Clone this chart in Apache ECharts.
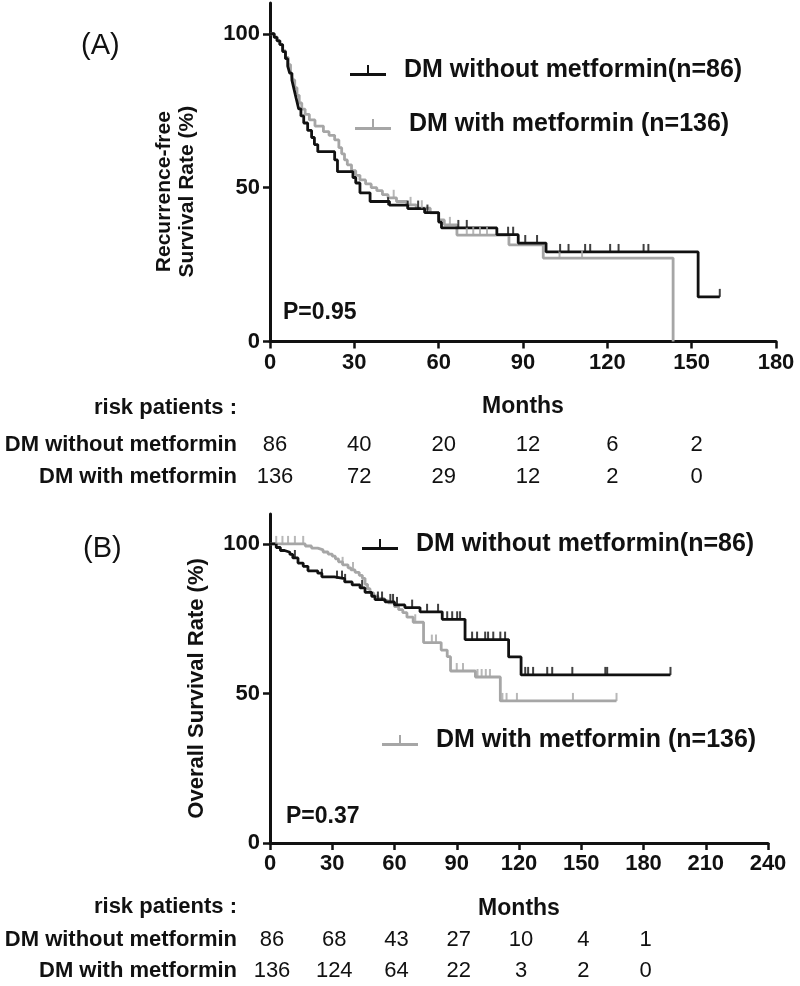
<!DOCTYPE html>
<html><head><meta charset="utf-8">
<script src="https://cdn.jsdelivr.net/npm/echarts@6/dist/echarts.min.js"></script>
<style>html,body{margin:0;padding:0;background:#fff}#c{width:800px;height:986px}</style>
</head><body><div id="c"></div>
<script>
// ---- data ----
const xTicksA = [0, 30, 60, 90, 120, 150, 180];
const xTicksB = [0, 30, 60, 90, 120, 150, 180, 210, 240];
const yTicks = [0, 50, 100];
const groupLabels = ['DM without metformin', 'DM with metformin'];
const legendLabelsA = ['DM without metformin(n=86)', 'DM with metformin (n=136)'];
const legendLabelsB = ['DM without metformin(n=86)', 'DM with metformin (n=136)'];
const riskA_without = [86, 40, 20, 12, 6, 2];
const riskA_with = [136, 72, 29, 12, 2, 0];
const riskB_without = [86, 68, 43, 27, 10, 4, 1];
const riskB_with = [136, 124, 64, 22, 3, 2, 0];
const pValueA = 'P=0.95';
const pValueB = 'P=0.37';

const curveA_without = [[0,100],[1.5,98.8],[2.5,97.7],[3.5,96.5],[4.5,94.2],[5.5,91.9],[6.3,89.5],[7,87.2],[7.8,84.9],[8.4,82.6],[9,80.2],[9.6,77.9],[10.2,75.6],[11,73.3],[12,71],[13.4,68.6],[14.8,66.3],[15.8,64],[17,61.7],[23,59],[24,55.2],[29.5,53.3],[30.5,51.5],[32,48.3],[35.6,45.5],[42.5,44.3],[49,43.2],[55,41.9],[60,38.8],[61,36.9],[80.7,34.7],[88.3,32],[98.2,29.1],[152.3,14.5],[160,14.5]];
const censorA_without = [[42,44.3],[49,43.2],[52.7,43.2],[56,41.9],[67,36.9],[70,36.9],[84.7,34.7],[86.5,34.7],[90.8,32],[95,32],[103.2,29.1],[106.2,29.1],[112.1,29.1],[113.9,29.1],[121,29.1],[124,29.1],[132.9,29.1],[134.6,29.1],[160,14.5]];
const curveA_with = [[0,100],[1.5,99],[2.5,97.8],[3.5,96.5],[4.5,94.5],[5.5,92.3],[6.5,90],[7.3,87.5],[8,85],[8.8,82.5],[9.6,80],[10.4,77.5],[11.3,75.5],[12.5,73.8],[14,72],[16,70],[19,68.2],[21,67],[23,65.5],[24.5,63],[25.5,61],[26.5,59],[27.5,57.4],[29,55.5],[30.5,54],[32,52.5],[34,51.2],[36,50],[38,49],[40,47.7],[42,46.7],[45,45.5],[48.7,44.4],[52,43.3],[57,41.8],[60,39.5],[62,37.9],[66.5,34.6],[85,31.4],[97.2,27.1],[143.4,0]];
const censorA_with = [[44,46.7],[50,44.4],[54,43.3],[64,37.9],[70,34.6],[72.3,34.6],[74.7,34.6],[77.2,34.6],[103,27.1],[111,27.1]];

const curveB_without = [[0,100],[3,98.8],[5,97.8],[7,97.2],[9.6,96.5],[11,95.3],[13.5,93.6],[16,92.5],[18.3,91],[23,90.2],[25,89],[31,88.4],[36,87.3],[39.6,86.3],[43.4,85.3],[45.8,83.8],[49,82.5],[50.6,81.4],[55.5,80.6],[60,79.6],[65,78.7],[72.3,77.3],[83,74.8],[94,68],[115,62.2],[121,56.2],[193,56.2]];
const censorB_without = [[12,95.3],[25,89],[32.3,88.4],[34.7,88.4],[36.2,87.3],[44.4,85.3],[52,81.4],[54,81.4],[58,80.6],[59.3,80.6],[61.2,79.6],[68.5,78.7],[75.7,77.3],[81,77.3],[85.4,74.8],[87.8,74.8],[90.2,74.8],[91.6,74.8],[97.4,68],[99.8,68],[103.7,68],[105.1,68],[107.6,68],[111,68],[113.3,68],[123,56.2],[124.4,56.2],[126.8,56.2],[133.6,56.2],[136,56.2],[145.7,56.2],[161.6,56.2],[162.5,56.2],[193,56.2]];
const curveB_with = [[0,100],[17,99.3],[20,98.6],[23,98],[25.6,97.3],[28,96.6],[30,95.9],[31.5,95],[33,94],[35,93],[37.6,92],[39,91.3],[41,90.5],[43,89.5],[44.5,88.5],[45.8,86.5],[47,85],[48.2,83.6],[50,82.6],[52,81.8],[55,81],[57,80.3],[60,79],[62,78],[64,77],[66,75.5],[69,73.8],[74,67],[82.5,64.5],[85.4,62.3],[87,57.5],[99,55.5],[111,47.5],[167,47.5]];
const censorB_with = [[3,100],[6,100],[8.7,100],[12,100],[16,100],[35,93],[40,91.3],[70,73.8],[78,67],[80,67],[90,57.5],[93,57.5],[100,55.5],[102,55.5],[104,55.5],[106,55.5],[112,47.5],[114,47.5],[119,47.5],[146,47.5],[167,47.5]];

// ---- styles ----
const FONT = '"Liberation Sans", Arial, sans-serif';
const BLACK = '#111111';
const GRAY = '#a6a6a6';
const legendIcon = 'path://M0,8 L36,8 L36,11 L0,11 Z M17,0 L19,0 L19,9 L17,9 Z';

function xAxisCfg(grid, max) {
  return {
    type: 'value', gridIndex: grid, min: 0, max: max, interval: 30,
    axisLine: { onZero: true, lineStyle: { color: BLACK, width: 3 } },
    axisTick: { length: 7, lineStyle: { color: BLACK, width: 2.5 } },
    axisLabel: { fontSize: 22, fontWeight: 'bold', color: BLACK, fontFamily: FONT, margin: 10 },
    splitLine: { show: false },
    name: 'Months', nameLocation: 'middle', nameGap: 54,
    nameTextStyle: { fontSize: 23, fontWeight: 'bold', color: BLACK, fontFamily: FONT }
  };
}
function yAxisCfg(grid) {
  return {
    type: 'value', gridIndex: grid, min: 0, max: 110, interval: 50,
    axisLine: { show: true, lineStyle: { color: BLACK, width: 3 } },
    axisTick: { show: true, length: 7, customValues: yTicks, lineStyle: { color: BLACK, width: 2.5 } },
    axisLabel: { customValues: yTicks, fontSize: 22, fontWeight: 'bold', color: BLACK, fontFamily: FONT, margin: 10 },
    splitLine: { show: false }
  };
}
function lineSeries(name, grid, data, color) {
  return { name: name, type: 'line', xAxisIndex: grid, yAxisIndex: grid, data: data, step: 'end',
    symbol: 'none', color: color, lineStyle: { color: color, width: 2.8 }, itemStyle: { color: color },
    silent: true, z: color === BLACK ? 3 : 2 };
}
function censorSeries(name, grid, data, color) {
  return { name: name, type: 'scatter', xAxisIndex: grid, yAxisIndex: grid, data: data,
    symbol: 'rect', symbolSize: [2, 8], symbolOffset: [0, '-50%'],
    itemStyle: { color: color }, silent: true, z: color === BLACK ? 4 : 3 };
}
function legendCfg(seriesName, left, centerY) {
  return {
    data: [seriesName], left: left, top: centerY - 14, padding: 0, selectedMode: false,
    icon: legendIcon, itemWidth: 36, itemHeight: 11,
    formatter: function (n) { return ({ A_without: legendLabelsA[0], A_with: legendLabelsA[1], B_without: legendLabelsB[0], B_with: legendLabelsB[1] })[n]; },
    textStyle: { fontSize: 25, fontWeight: 'bold', color: BLACK, fontFamily: FONT, padding: [0, 0, 0, 13] }
  };
}

const chart = echarts.init(document.getElementById('c'), null, { renderer: 'canvas' });
chart.setOption({
  animation: false,
  backgroundColor: '#ffffff',
  grid: [
    { left: 270, top: 3, width: 506, height: 338.5 },
    { left: 270, top: 514, width: 498, height: 329 }
  ],
  xAxis: [xAxisCfg(0, 180), xAxisCfg(1, 240)],
  yAxis: [yAxisCfg(0), yAxisCfg(1)],
  legend: [
    legendCfg('A_without', 350, 72),
    legendCfg('A_with', 355, 126),
    legendCfg('B_without', 362, 546),
    legendCfg('B_with', 382, 742)
  ],
  series: [
    lineSeries('A_with', 0, curveA_with, GRAY),
    censorSeries('A_with_c', 0, censorA_with, GRAY),
    lineSeries('A_without', 0, curveA_without, BLACK),
    censorSeries('A_without_c', 0, censorA_without, BLACK),
    lineSeries('B_with', 1, curveB_with, GRAY),
    censorSeries('B_with_c', 1, censorB_with, GRAY),
    lineSeries('B_without', 1, curveB_without, BLACK),
    censorSeries('B_without_c', 1, censorB_without, BLACK)
  ]
});

// ---- texts placed through the axes ----
const g = [];
function txt(x, y, text, opt) {
  g.push(Object.assign({ type: 'text', x: x, y: y, silent: true,
    style: Object.assign({ text: text, fill: BLACK, font: 'bold 22px ' + FONT, align: 'left', verticalAlign: 'middle' }, opt || {}) }));
}
const px = (ai, v) => chart.convertToPixel({ xAxisIndex: ai }, v);
const py = (ai, v) => chart.convertToPixel({ yAxisIndex: ai }, v);

// panel labels
txt(81, 46, '(A)', { font: '29px ' + FONT });
txt(83, 549, '(B)', { font: '29px ' + FONT });
// y-axis titles
g.push({ type: 'text', x: 176, y: py(0, 50) + 4, rotation: Math.PI / 2, silent: true,
  style: { text: 'Recurrence-free\nSurvival Rate (%)', fill: BLACK, font: 'bold 21px ' + FONT, align: 'center', verticalAlign: 'middle', lineHeight: 23 } });
g.push({ type: 'text', x: 197, y: py(1, 50) - 5, rotation: Math.PI / 2, silent: true,
  style: { text: 'Overall Survival Rate (%)', fill: BLACK, font: 'bold 22px ' + FONT, align: 'center', verticalAlign: 'middle' } });
// p values
txt(283, 313, pValueA, { font: 'bold 23px ' + FONT });
txt(286, 817, pValueB, { font: 'bold 23px ' + FONT });
// risk tables
function riskTable(ai, ticks, rowWithout, rowWith, yHead, y1, y2, off) {
  txt(237, yHead, 'risk patients :', { align: 'right' });
  txt(237, y1, groupLabels[0] , { align: 'right' });
  txt(237, y2, groupLabels[1], { align: 'right' });
  rowWithout.forEach((v, i) => txt(px(ai, ticks[i]) + off, y1, String(v), { align: 'center', font: '22px ' + FONT }));
  rowWith.forEach((v, i) => txt(px(ai, ticks[i]) + off, y2, String(v), { align: 'center', font: '22px ' + FONT }));
}
riskTable(0, xTicksA, riskA_without, riskA_with, 408, 445, 477, 5);
riskTable(1, xTicksB, riskB_without, riskB_with, 907, 940, 971, 2);

chart.setOption({ graphic: g });
</script></body></html>
